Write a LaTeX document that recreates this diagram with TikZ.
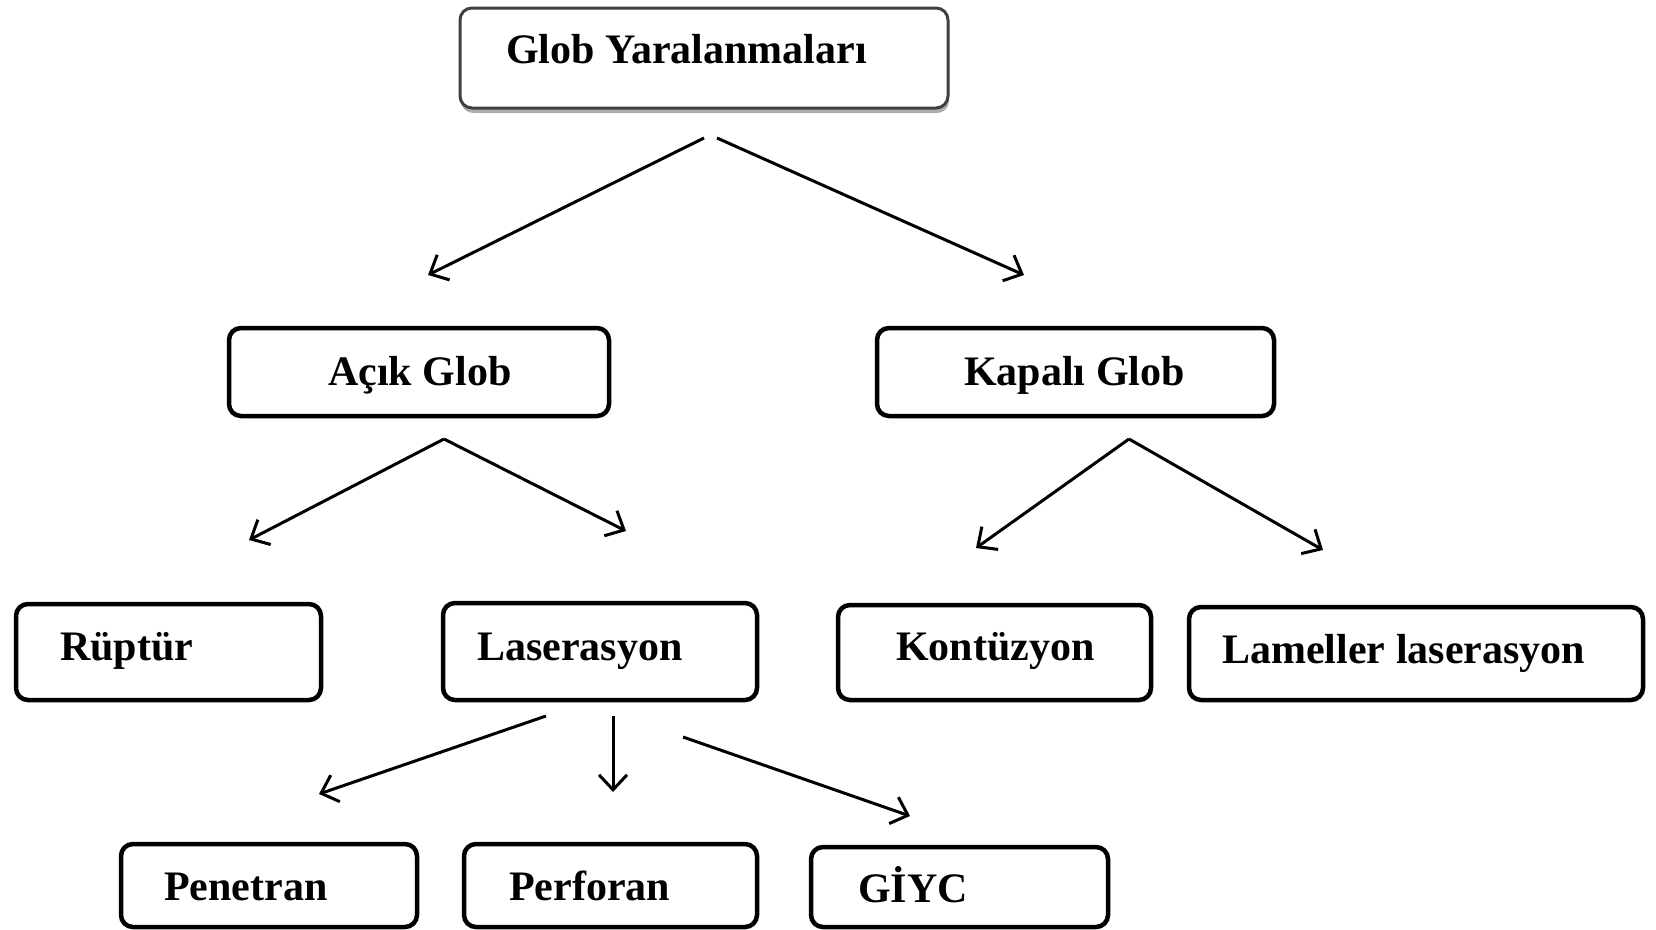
\documentclass[tikz,border=0pt]{standalone}
\usepackage{fontspec}
\setmainfont{Liberation Serif}
\usetikzlibrary{arrows.meta,shadows}
\newcommand\mybox[6][]{%
  \node[box,#1, minimum width={(#5-#3)*1pt}, minimum height={(#6-#4)*1pt}] (#2) at ({(#3+#5)/2},{(#4+#6)/2}) {};}
\begin{document}
\begin{tikzpicture}[x=1pt,y=-1pt,
  box/.style={draw=black, line width=4.5pt, rounded corners=12pt, inner sep=0pt, outer sep=0pt},
  topbox/.style={draw=black!75, line width=3pt, rounded corners=12pt, drop shadow={shadow xshift=1pt, shadow yshift=-5pt, opacity=0.45, fill=black!70}, fill=white},
  lbl/.style={font=\fontsize{42}{50}\selectfont\bfseries, inner sep=0pt, anchor=base west},
  arr/.style={line width=3pt, -{Straight Barb[length=15pt, width=28pt]}}]
\useasboundingbox (0,0) rectangle (1656,929);
% boxes
\mybox[topbox]{top}{460}{8}{948}{108}
\mybox{acik}{229}{328}{609}{416}
\mybox{kapali}{877}{328}{1274}{416}
\mybox{ruptur}{16}{604}{321}{700}
\mybox{laser}{443}{603}{757}{700}
\mybox{kontu}{838}{605}{1151}{700}
\mybox{lamel}{1189}{607}{1643}{700}
\mybox{penet}{121}{844}{417}{927}
\mybox{perfo}{464}{844}{757}{927}
\mybox{giyc}{811}{847}{1108}{927}
% labels
\node[lbl] (ttop) at (506,63) {Glob Yaralanmaları};
\node[lbl] (tacik) at (328,385) {Açık Glob};
\node[lbl] (tkapali) at (964,385) {Kapalı Glob};
\node[lbl] (truptur) at (60,660) {Rüptür};
\node[lbl] (tlaser) at (477,660) {Laserasyon};
\node[lbl] (tkontu) at (896,660) {Kontüzyon};
\node[lbl] (tlamel) at (1222,663) {Lameller laserasyon};
\node[lbl] (tpenet) at (164,900) {Penetran};
\node[lbl] (tperfo) at (509,900) {Perforan};
\node[lbl] (tgiyc) at (858,902) {GİYC};
% arrow end points
\coordinate (g1) at (704,138);
\coordinate (g1e) at (428,275);
\coordinate (g2) at (717,138);
\coordinate (g2e) at (1024,275);
\coordinate (a0) at (444,439);
\coordinate (a1e) at (249,540);
\coordinate (a2e) at (626,531);
\coordinate (k0) at (1129,439);
\coordinate (k1e) at (976,548);
\coordinate (k2e) at (1323,550);
\coordinate (l1) at (546,716);
\coordinate (l1e) at (319,794);
\coordinate (l2) at (613,716);
\coordinate (l2e) at (613,792);
\coordinate (l3) at (683,737);
\coordinate (l3e) at (910,816);
% arrows
\draw[arr] (g1) -- (g1e);
\draw[arr] (g2) -- (g2e);
\draw[arr] (a0) -- (a1e);
\draw[arr] (a0) -- (a2e);
\draw[arr] (k0) -- (k1e);
\draw[arr] (k0) -- (k2e);
\draw[arr] (l1) -- (l1e);
\draw[arr] (l2) -- (l2e);
\draw[arr] (l3) -- (l3e);
\end{tikzpicture}
\end{document}
